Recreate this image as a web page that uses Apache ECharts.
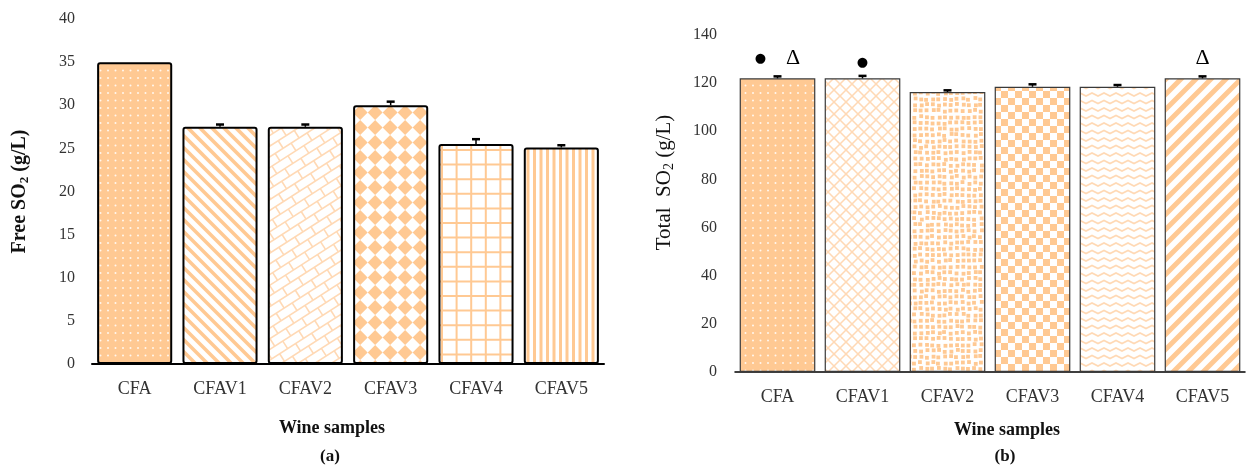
<!DOCTYPE html>
<html>
<head>
<meta charset="utf-8">
<script src="https://cdn.jsdelivr.net/npm/echarts@6/dist/echarts.min.js"></script>
<style>
  html, body { margin: 0; padding: 0; background: #fff; }
  #chart { width: 1250px; height: 469px; }
</style>
</head>
<body>
<div id="chart"></div>
<script>
// data
var samples = ["CFA", "CFAV1", "CFAV2", "CFAV3", "CFAV4", "CFAV5"];
var freeSO2 = [35, 27.5, 27.5, 30, 25.5, 25.1];
var freeErr = [0, 0.15, 0.15, 0.3, 0.45, 0.15];
var totalSO2 = [122, 122, 116.3, 118.5, 118.5, 122];
var totalErr = [0.4, 0.6, 0.3, 0.6, 0.3, 0.4];
var totalMarks = ["dt", "d", "", "", "", "t"];

var ORANGE = "#FFC993";
var LIGHT = "#FFD9B5";
var SERIF = "'Liberation Serif', 'Times New Roman', serif";

// big pattern canvases, anchored at the chart origin so no seams show
function pat(draw, bg) {
  var c = document.createElement("canvas");
  c.width = 1260; c.height = 480;
  var ctx = c.getContext("2d");
  ctx.fillStyle = bg || "#fff";
  ctx.fillRect(0, 0, c.width, c.height);
  draw(ctx, c.width, c.height);
  return { image: c, repeat: "repeat" };
}

function dots(ctx, w, h) {
  ctx.fillStyle = "rgba(255,255,255,0.85)";
  for (var y = 3; y < h; y += 7.5)
    for (var x = 3; x < w; x += 7.5) {
      ctx.beginPath(); ctx.arc(x, y, 1, 0, Math.PI * 2); ctx.fill();
    }
}
function diag(dir, step, lw, color) {
  return function (ctx, w, h) {
    ctx.strokeStyle = color; ctx.lineWidth = lw;
    for (var k = -h; k < w + h; k += step) {
      ctx.beginPath();
      if (dir > 0) { ctx.moveTo(k, h); ctx.lineTo(k + h, 0); }
      else { ctx.moveTo(k, 0); ctx.lineTo(k + h, h); }
      ctx.stroke();
    }
  };
}
function bricks(ctx, w, h) {
  ctx.strokeStyle = LIGHT; ctx.lineWidth = 1.6;
  ctx.translate(0, h); ctx.rotate(-Math.PI / 5.5);
  var L = 19, H = 9;
  for (var r = -200; r < 200; r++) {
    var y = r * H;
    ctx.beginPath(); ctx.moveTo(-200, y); ctx.lineTo(1800, y); ctx.stroke();
    var off = (r % 2 === 0) ? 0 : L / 2;
    for (var x = -200 + off; x < 1800; x += L) {
      ctx.beginPath(); ctx.moveTo(x, y); ctx.lineTo(x, y + H); ctx.stroke();
    }
  }
}
function rotChecker(size, color) {
  return function (ctx, w, h) {
    ctx.fillStyle = color;
    ctx.translate(w / 2, h / 2); ctx.rotate(Math.PI / 4);
    for (var i = -110; i < 110; i++)
      for (var j = -110; j < 110; j++)
        if ((i + j) % 2 === 0) ctx.fillRect(i * size, j * size, size, size);
  };
}
function grid(step, lw, color) {
  return function (ctx, w, h) {
    ctx.strokeStyle = color; ctx.lineWidth = lw;
    for (var x = 4; x < w; x += step) { ctx.beginPath(); ctx.moveTo(x, 0); ctx.lineTo(x, h); ctx.stroke(); }
    for (var y = 4; y < h; y += step) { ctx.beginPath(); ctx.moveTo(0, y); ctx.lineTo(w, y); ctx.stroke(); }
  };
}
function vstripes(ctx, w, h) {
  ctx.fillStyle = ORANGE;
  for (var x = 0; x < w; x += 6.5) ctx.fillRect(x, 0, 3, h);
}
function confetti(ctx, w, h) {
  ctx.fillStyle = ORANGE;
  for (var j = 0; j < h / 6; j++)
    for (var i = 0; i < w / 6; i++) {
      var s = Math.sin(i * 12.9898 + j * 78.233) * 43758.5453;
      var t = Math.sin(i * 39.3467 + j * 11.135) * 24634.6345;
      var ox = (s - Math.floor(s)) * 2, oy = (t - Math.floor(t)) * 2;
      ctx.fillRect(i * 6 + ox, j * 6 + oy, 3.8, 3.8);
    }
}
function checker(size, color) {
  return function (ctx, w, h) {
    ctx.fillStyle = color;
    for (var j = 0; j * size < h; j++)
      for (var i = 0; i * size < w; i++)
        if ((i + j) % 2 === 0) ctx.fillRect(i * size, j * size, size, size);
  };
}
function waves(ctx, w, h) {
  ctx.strokeStyle = LIGHT; ctx.lineWidth = 1.8;
  for (var y = 3; y < h + 8; y += 7.5) {
    ctx.beginPath();
    for (var x = 0; x <= w; x += 6) ctx.lineTo(x, y + ((x / 6) % 2 === 0 ? 0 : 3));
    ctx.stroke();
  }
}

var freeFills = [
  pat(dots, ORANGE),
  pat(diag(-1, 12, 3.6, ORANGE)),
  pat(bricks),
  pat(rotChecker(10.6, ORANGE)),
  pat(grid(14.6, 2, ORANGE)),
  pat(vstripes)
];
var totalFills = [
  pat(dots, ORANGE),
  (function () { var a = diag(1, 12, 1.5, LIGHT), b = diag(-1, 12, 1.5, LIGHT);
    return pat(function (ctx, w, h) { a(ctx, w, h); b(ctx, w, h); }); })(),
  pat(confetti),
  pat(checker(7, ORANGE)),
  pat(waves),
  pat(diag(1, 15, 5, ORANGE))
];

function errBars(color, lw) {
  return function (params, api) {
    var v = api.value(1), e = api.value(2);
    if (!e) return;
    var base = api.coord([api.value(0), v]);
    var top = api.coord([api.value(0), v + e]);
    return {
      type: "group",
      children: [
        { type: "line", shape: { x1: base[0], y1: base[1], x2: top[0], y2: top[1] - 1 },
          style: { stroke: color, lineWidth: lw } },
        { type: "line", shape: { x1: top[0] - 4, y1: top[1] - 1, x2: top[0] + 4, y2: top[1] - 1 },
          style: { stroke: color, lineWidth: 2.5 } }
      ]
    };
  };
}

var markText = { dt: "{d|●}      {t|Δ}", d: "{d|●}", t: "{t|Δ}" };

var chart = echarts.init(document.getElementById("chart"), null, { renderer: "canvas" });
chart.setOption({
  animation: false,
  backgroundColor: "#fff",
  grid: [
    { left: 92, top: 19, width: 512, height: 345 },
    { left: 735, top: 35, width: 510, height: 337 }
  ],
  xAxis: [
    {
      gridIndex: 0, type: "category", data: samples,
      axisLine: { lineStyle: { color: "#000", width: 2 } },
      axisTick: { alignWithLabel: true, length: 3, lineStyle: { color: "#000", width: 2 } },
      axisLabel: { color: "#333", fontFamily: SERIF, fontSize: 18, margin: 16 }
    },
    {
      gridIndex: 1, type: "category", data: samples,
      axisLine: { lineStyle: { color: "#000", width: 1.5 } },
      axisTick: { alignWithLabel: true, length: 4, lineStyle: { color: "#000", width: 2 } },
      axisLabel: { color: "#333", fontFamily: SERIF, fontSize: 18, margin: 16 }
    }
  ],
  yAxis: [
    {
      gridIndex: 0, type: "value", min: 0, max: 40, interval: 5,
      axisLine: { show: false }, axisTick: { show: false }, splitLine: { show: false },
      axisLabel: { color: "#333", fontFamily: SERIF, fontSize: 16, margin: 17 },
      name: "Free SO{s|2} (g/L)", nameLocation: "middle", nameGap: 61,
      nameTextStyle: {
        color: "#111", fontFamily: SERIF, fontSize: 20, fontWeight: "bold",
        rich: { s: { fontFamily: SERIF, fontSize: 13, fontWeight: "bold", padding: [9, 0, 0, 0], color: "#111" } }
      }
    },
    {
      gridIndex: 1, type: "value", min: 0, max: 140, interval: 20,
      axisLine: { show: false }, axisTick: { show: false }, splitLine: { show: false },
      axisLabel: { color: "#333", fontFamily: SERIF, fontSize: 16, margin: 18 },
      name: "Total  SO{s|2} (g/L)", nameLocation: "middle", nameGap: 59,
      nameTextStyle: {
        color: "#111", fontFamily: SERIF, fontSize: 21, padding: [0, 0, 0, 42],
        rich: { s: { fontFamily: SERIF, fontSize: 14, padding: [9, 0, 0, 0], color: "#111" } }
      }
    }
  ],
  graphic: [
    { type: "text", x: 332, y: 428, style: { text: "Wine samples", font: "bold 18px " + SERIF, fill: "#111", align: "center", verticalAlign: "middle" } },
    { type: "text", x: 330, y: 457, style: { text: "(a)", font: "bold 17px " + SERIF, fill: "#111", align: "center", verticalAlign: "middle" } },
    { type: "text", x: 1007, y: 430, style: { text: "Wine samples", font: "bold 18px " + SERIF, fill: "#111", align: "center", verticalAlign: "middle" } },
    { type: "text", x: 1005, y: 457, style: { text: "(b)", font: "bold 17px " + SERIF, fill: "#111", align: "center", verticalAlign: "middle" } }
  ],
  series: [
    {
      type: "bar", xAxisIndex: 0, yAxisIndex: 0, barCategoryGap: "12%",
      data: freeSO2.map(function (v, i) {
        return { value: v, itemStyle: { color: freeFills[i], borderColor: "#000", borderWidth: 2, borderRadius: 2 } };
      })
    },
    {
      type: "custom", xAxisIndex: 0, yAxisIndex: 0, z: 5,
      renderItem: errBars("#000", 1.5),
      data: freeSO2.map(function (v, i) { return [i, v, freeErr[i]]; })
    },
    {
      type: "bar", xAxisIndex: 1, yAxisIndex: 1, barCategoryGap: "11%",
      data: totalSO2.map(function (v, i) {
        return {
          value: v,
          itemStyle: { color: totalFills[i], borderColor: "#3a3a3a", borderWidth: 1.2 },
          label: {
            show: !!totalMarks[i], position: "top", distance: 9,
            formatter: markText[totalMarks[i]] || "",
            rich: {
              d: { fontSize: 13, color: "#000", fontFamily: "DejaVu Sans" },
              t: { fontSize: 22, color: "#000", fontFamily: SERIF }
            }
          }
        };
      })
    },
    {
      type: "custom", xAxisIndex: 1, yAxisIndex: 1, z: 5,
      renderItem: errBars("#000", 1.5),
      data: totalSO2.map(function (v, i) { return [i, v, totalErr[i]]; })
    }
  ]
});
</script>
</body>
</html>
